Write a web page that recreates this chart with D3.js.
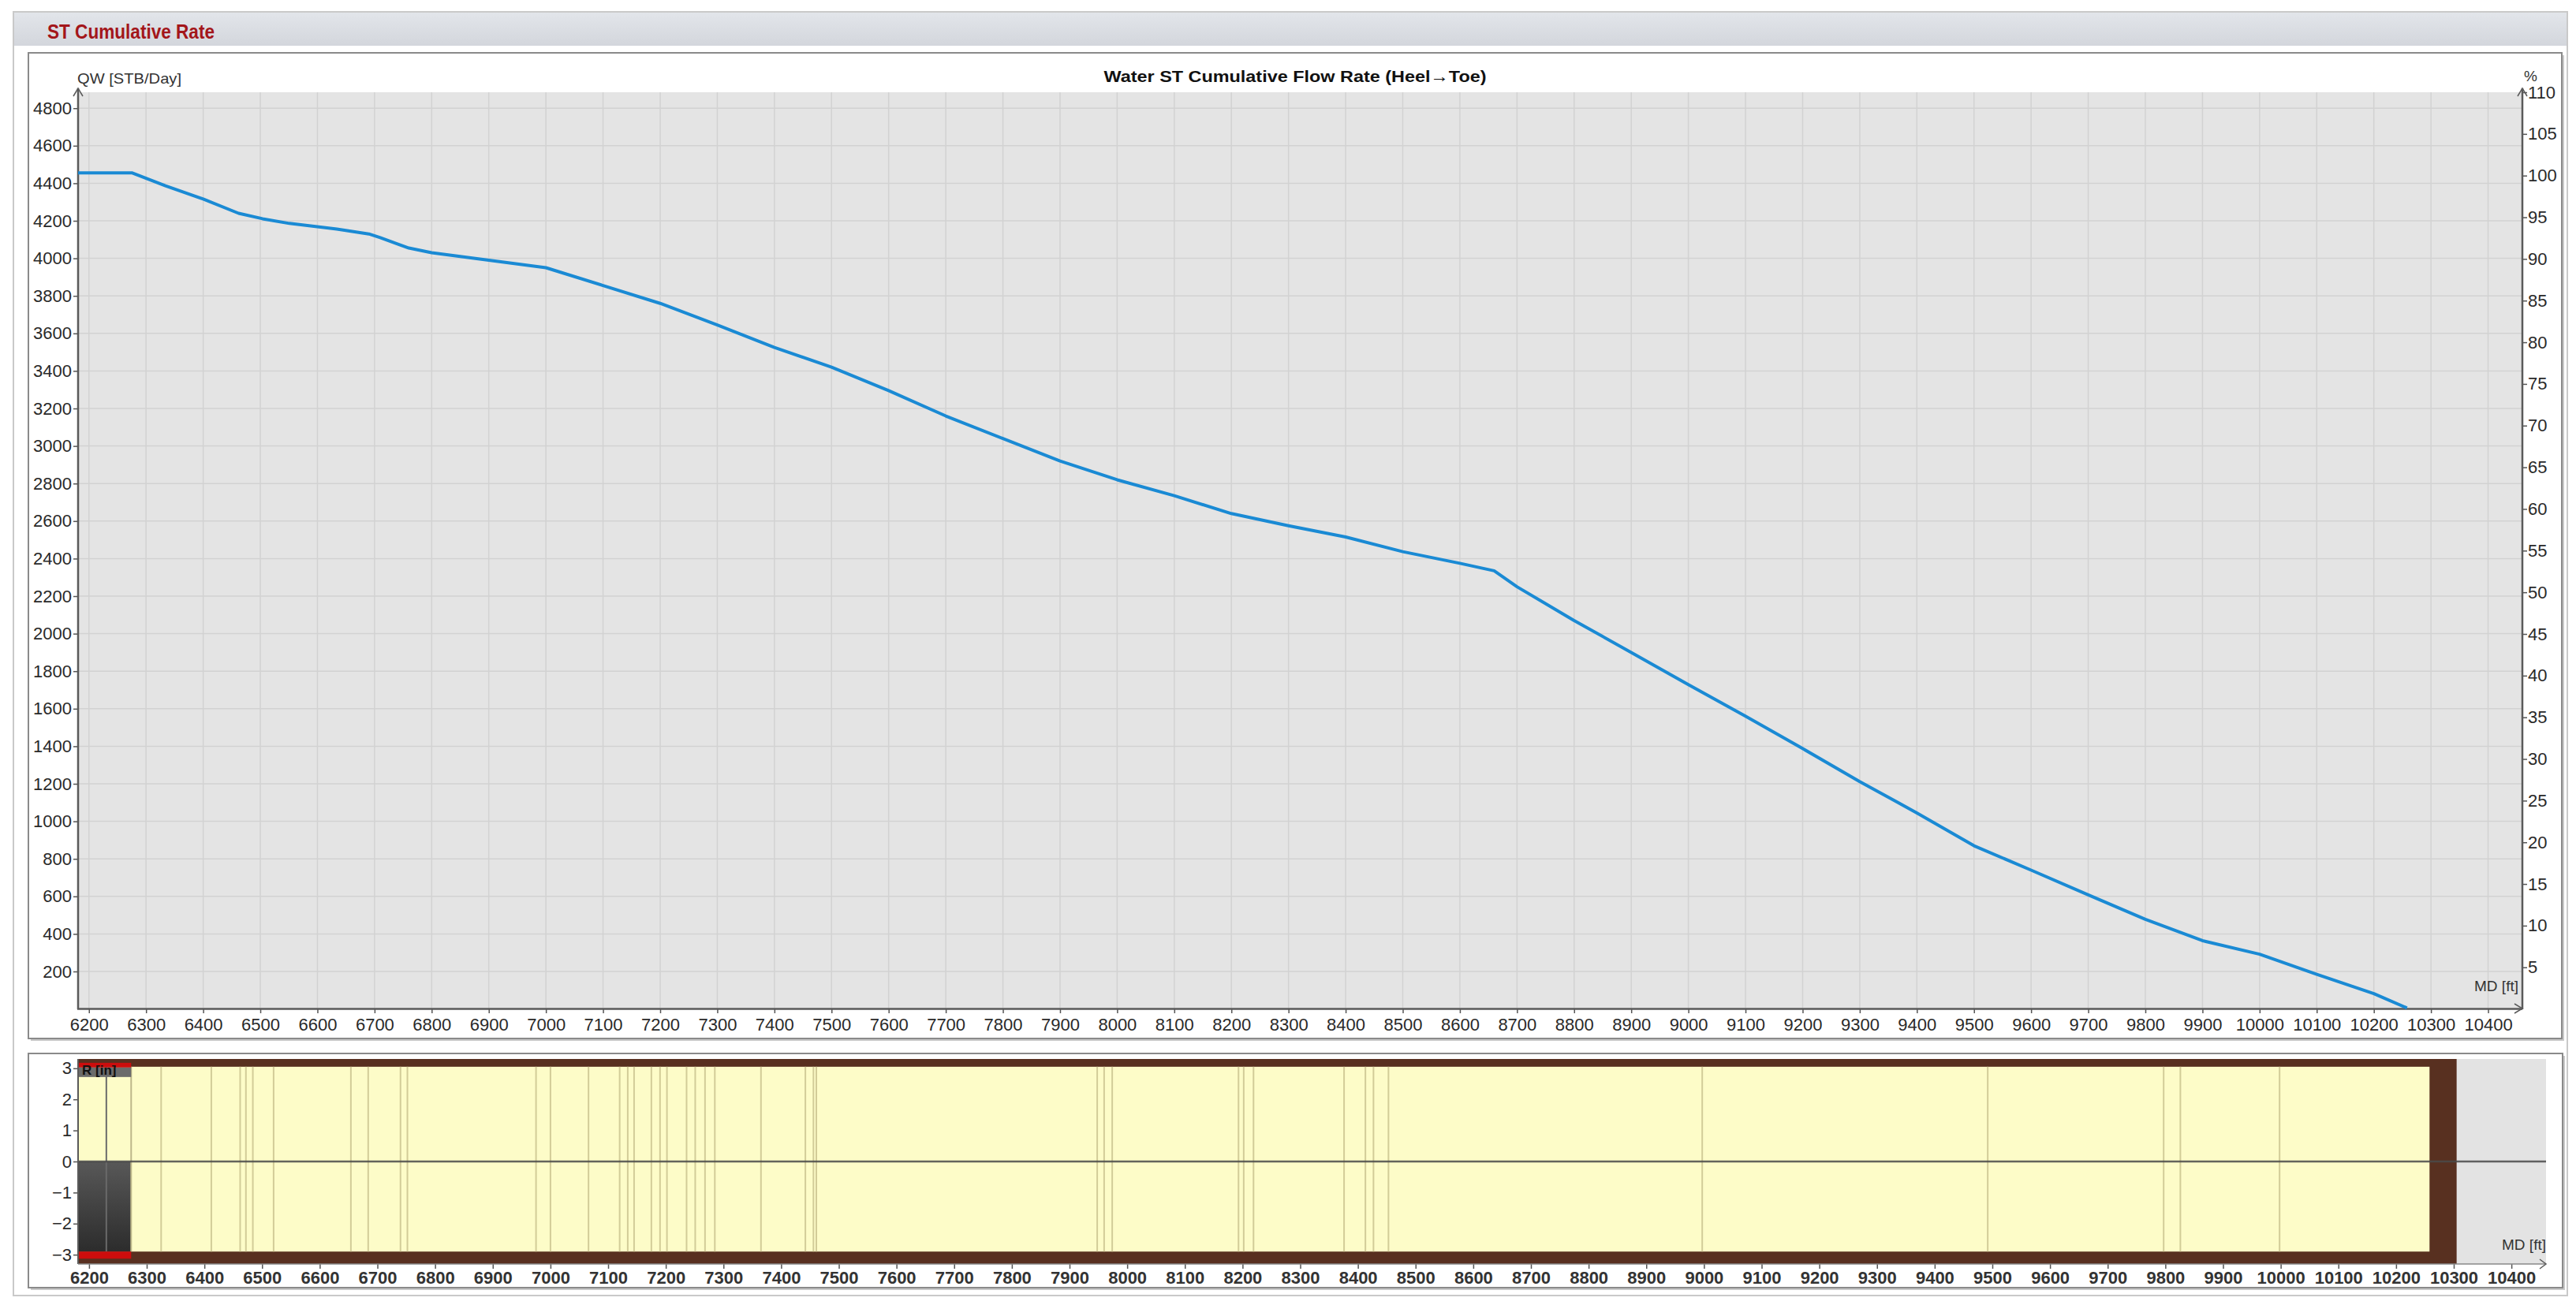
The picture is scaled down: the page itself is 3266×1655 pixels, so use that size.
<!DOCTYPE html>
<html><head><meta charset="utf-8">
<script src="https://cdn.jsdelivr.net/npm/d3@7/dist/d3.min.js"></script>
<style>
html,body{margin:0;padding:0;background:#fff;}
svg{display:block;font-family:"Liberation Sans",Arial,sans-serif;}
</style></head>
<body>
<svg id="c" width="3266" height="1655"></svg>
<script>
// ---------- data ----------
const panelTitle = "ST Cumulative Rate";
const chartTitle = "Water ST Cumulative Flow Rate (Heel\u2192Toe)";
const yLabel = "QW [STB/Day]";
const xLabel = "MD [ft]";
const lowerYLabel = "R [in]";
const mdValues = [6181, 6276, 6334, 6400, 6462, 6504, 6551, 6634, 6690, 6710, 6760, 6800, 6900, 7000, 7100, 7200, 7300, 7400, 7500, 7600, 7700, 7800, 7900, 8000, 8100, 8200, 8300, 8400, 8500, 8600, 8660, 8700, 8800, 8900, 9000, 9100, 9200, 9300, 9400, 9500, 9600, 9700, 9800, 9900, 10000, 10100, 10200, 10258];
const qwValues = [4455, 4455, 4387, 4316, 4240, 4211, 4186, 4156, 4130, 4110, 4055, 4030, 3990, 3950, 3855, 3760, 3645, 3525, 3420, 3295, 3160, 3040, 2920, 2820, 2735, 2640, 2575, 2515, 2437, 2375, 2335, 2250, 2070, 1900, 1728, 1560, 1388, 1212, 1045, 870, 740, 608, 478, 364, 292, 185, 82, 5];
const xTicks = d3.range(6200, 10401, 100);
const yTicks = d3.range(200, 4801, 200);
const pctTicks = d3.range(5, 111, 5);
const lowerYTicks = [-3, -2, -1, 0, 1, 2, 3];
// well schematic (lower panel)
const casingRange = [6181, 10305];
const holeRange = [6181, 10258];
const blankRange = [6181, 6273];
const segmentLines = [6230, 6325, 6412, 6462, 6472, 6484, 6520, 6654, 6684, 6740, 6752, 6975, 7000, 7066, 7120, 7134, 7145, 7175, 7190, 7202, 7236, 7251, 7268, 7285, 7365, 7442, 7456, 7461, 7948, 7960, 7974, 8193, 8202, 8219, 8376, 8413, 8427, 8453, 8997, 9492, 9797, 9826, 9998];

// ---------- layout ----------
const svg = d3.select("#c");
const W = 3266, H = 1655;
const mdDomain = [6181, 10460];
const qTop = 4885;

// outer panel
svg.append("rect").attr("x",17).attr("y",15).attr("width",3238).attr("height",1628)
  .attr("fill","#fff").attr("stroke","#c9c9c9").attr("stroke-width",2);
const hg = svg.append("defs").append("linearGradient").attr("id","hdr").attr("x1",0).attr("x2",0).attr("y1",0).attr("y2",1);
hg.append("stop").attr("offset","0%").attr("stop-color","#e2e5ea");
hg.append("stop").attr("offset","100%").attr("stop-color","#d3d6dc");
svg.append("rect").attr("x",18).attr("y",16).attr("width",3236).attr("height",42).attr("fill","url(#hdr)");
svg.append("text").attr("x",60).attr("y",49).attr("font-size",26).attr("font-weight","bold")
  .attr("fill","#a3161a").attr("textLength",212).attr("lengthAdjust","spacingAndGlyphs").text(panelTitle);

// boxes with shadow
function box(x,y,w,h){
  svg.append("rect").attr("x",x+3).attr("y",y+3).attr("width",w).attr("height",h).attr("fill","#c8c8c8");
  svg.append("rect").attr("x",x).attr("y",y).attr("width",w).attr("height",h).attr("fill","#fff").attr("stroke","#8a8a8a").attr("stroke-width",2);
}
box(36,67,3212,1250);
box(36,1336,3213,297);

// ---------- main chart ----------
const x = d3.scaleLinear().domain(mdDomain).range([99,3198]);
const y = d3.scaleLinear().domain([0,qTop]).range([1279.6,117]);
const yP = d3.scaleLinear().domain([0,110]).range([1279.6,117]);

const main = svg.append("g");
main.append("rect").attr("x",x.range()[0]).attr("y",117).attr("width",x.range()[1]-x.range()[0]).attr("height",1279.6-117).attr("fill","#e4e4e4");
main.append("g").selectAll("line").data(xTicks).join("line")
  .attr("x1",d=>x(d)).attr("x2",d=>x(d)).attr("y1",117).attr("y2",1279).attr("stroke","#d2d2d2").attr("stroke-width",1.5);
main.append("g").selectAll("line").data(yTicks).join("line")
  .attr("x1",99).attr("x2",3198).attr("y1",d=>y(d)).attr("y2",d=>y(d)).attr("stroke","#d2d2d2").attr("stroke-width",1.5);

const axStyle = g => {
  g.selectAll(".domain").remove();
  g.selectAll("line").attr("stroke","#555").attr("stroke-width",1.5);
  g.selectAll("text").attr("fill","#2a2a2a").attr("font-size",22);
};
main.append("g").attr("transform","translate(0,1279)")
  .call(d3.axisBottom(x).tickValues(xTicks).tickFormat(d3.format("d")).tickSize(6).tickPadding(6)).call(axStyle);
main.append("g").attr("transform","translate(99,0)")
  .call(d3.axisLeft(y).tickValues(yTicks).tickFormat(d3.format("d")).tickSize(6).tickPadding(2)).call(axStyle);
main.append("g").attr("transform","translate(3198,0)")
  .call(d3.axisRight(yP).tickValues(pctTicks).tickFormat(d3.format("d")).tickSize(6).tickPadding(1)).call(axStyle);

// axis lines + arrows
const ax = main.append("g").attr("stroke","#5a5a5a").attr("stroke-width",2.5).attr("fill","none");
ax.append("line").attr("x1",99).attr("x2",99).attr("y1",112).attr("y2",1280);
ax.append("line").attr("x1",98).attr("x2",3198).attr("y1",1279.5).attr("y2",1279.5);
ax.append("line").attr("x1",3198).attr("x2",3198).attr("y1",112).attr("y2",1280);
ax.append("path").attr("d","M93,122 L99,112 L105,122").attr("stroke-width",1.5);
ax.append("path").attr("d","M3192,122 L3198,112 L3204,122").attr("stroke-width",1.5);
ax.append("path").attr("d","M3188,1273 L3198,1279 L3188,1285").attr("stroke-width",1.5);

main.append("text").attr("x",98).attr("y",106).attr("font-size",19).attr("fill","#333")
  .attr("textLength",132).attr("lengthAdjust","spacingAndGlyphs").text(yLabel);
main.append("text").attr("x",3200).attr("y",103).attr("font-size",19).attr("fill","#333").text("%");
main.append("text").attr("x",1642).attr("y",104).attr("text-anchor","middle").attr("font-size",21).attr("font-weight","bold")
  .attr("fill","#111").attr("textLength",485).attr("lengthAdjust","spacingAndGlyphs").text(chartTitle);
main.append("text").attr("x",3193).attr("y",1257).attr("text-anchor","end").attr("font-size",19).attr("fill","#333").text(xLabel);

const pts = mdValues.map((m,i)=>[m,qwValues[i]]);
main.append("path").datum(pts)
  .attr("d",d3.line().x(d=>x(d[0])).y(d=>y(d[1])))
  .attr("fill","none").attr("stroke","#1a8ad4").attr("stroke-width",4).attr("stroke-linejoin","round");

// ---------- lower chart ----------
const xl = d3.scaleLinear().domain(mdDomain).range([99,3228]);
const yl = d3.scaleLinear().domain([-3.3,3.3]).range([1603,1343]);
const low = svg.append("g");
low.append("rect").attr("x",99).attr("y",yl(3.3)).attr("width",3228-99).attr("height",yl(-3.3)-yl(3.3)).attr("fill","#e3e3e3");
low.append("rect").attr("x",xl(casingRange[0])).attr("y",yl(3.3)).attr("width",xl(casingRange[1])-xl(casingRange[0]))
  .attr("height",yl(-3.3)-yl(3.3)).attr("fill","#583020");
low.append("rect").attr("x",xl(holeRange[0])).attr("y",yl(3.05)).attr("width",xl(holeRange[1])-xl(holeRange[0]))
  .attr("height",yl(-2.9)-yl(3.05)).attr("fill","#fdfcc8");
const dg = svg.select("defs").append("linearGradient").attr("id","blk").attr("x1",0).attr("x2",0).attr("y1",0).attr("y2",1);
dg.append("stop").attr("offset","0%").attr("stop-color","#585858");
dg.append("stop").attr("offset","100%").attr("stop-color","#2c2c2c");
low.append("rect").attr("x",xl(blankRange[0])).attr("y",yl(0)).attr("width",xl(blankRange[1])-xl(blankRange[0]))
  .attr("height",yl(-2.9)-yl(0)).attr("fill","url(#blk)");
low.append("g").selectAll("line").data(segmentLines).join("line")
  .attr("x1",d=>xl(d)).attr("x2",d=>xl(d)).attr("y1",yl(3.05)).attr("y2",yl(-2.9))
  .attr("stroke",d=>d<blankRange[1]?"#6a6a6a":"#d2cc98").attr("stroke-width",2);
low.append("line").attr("x1",xl(blankRange[1])).attr("x2",xl(blankRange[1])).attr("y1",yl(3.05)).attr("y2",yl(-2.9)).attr("stroke","#bdb78a").attr("stroke-width",2);
// red markers
low.append("rect").attr("x",xl(blankRange[0])).attr("y",yl(-2.9)).attr("width",xl(blankRange[1])-xl(blankRange[0])).attr("height",9).attr("fill","#cc0d0d");
low.append("rect").attr("x",xl(blankRange[0])).attr("y",yl(3.05)-5).attr("width",xl(blankRange[1])-xl(blankRange[0])).attr("height",6).attr("fill","#cc0d0d");
low.append("rect").attr("x",xl(blankRange[0])).attr("y",yl(3.05)+1).attr("width",xl(blankRange[1])-xl(blankRange[0])).attr("height",12).attr("fill","#6b6b6b");
low.append("text").attr("x",104).attr("y",1363).attr("font-size",17).attr("font-weight","bold").attr("fill","#111").text(lowerYLabel);
// zero line
low.append("line").attr("x1",99).attr("x2",3228).attr("y1",yl(0)).attr("y2",yl(0)).attr("stroke","#4a4a4a").attr("stroke-width",2.5).attr("opacity",0.85);

low.append("g").attr("transform","translate(0,1603)")
  .call(d3.axisBottom(xl).tickValues(xTicks).tickFormat(d3.format("d")).tickSize(6).tickPadding(3)).call(axStyle)
  .selectAll("text").attr("font-size",22).attr("font-weight","bold").attr("fill","#333");
low.append("g").attr("transform","translate(99,0)")
  .call(d3.axisLeft(yl).tickValues(lowerYTicks).tickFormat(d3.format("d")).tickSize(6).tickPadding(2)).call(axStyle);
const lax = low.append("g").attr("stroke","#5a5a5a").attr("stroke-width",2).attr("fill","none");
lax.append("line").attr("x1",99).attr("x2",99).attr("y1",1343).attr("y2",1603);
lax.append("line").attr("x1",99).attr("x2",3228).attr("y1",1603).attr("y2",1603).attr("stroke-width",1.5).attr("stroke","#888");
lax.append("path").attr("d","M3220,1597 L3228,1603 L3220,1609").attr("stroke-width",1.5);
low.append("text").attr("x",3228).attr("y",1585).attr("text-anchor","end").attr("font-size",19).attr("fill","#333").text(xLabel);
</script>
</body></html>
